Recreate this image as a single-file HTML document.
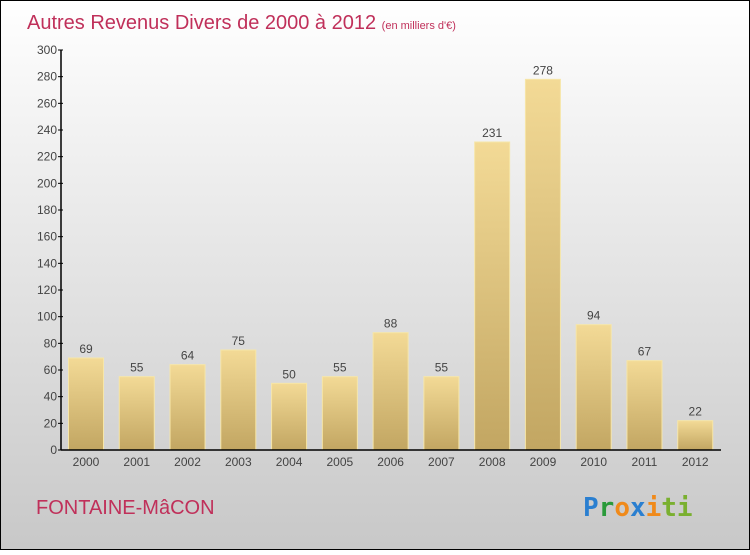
<!DOCTYPE html>
<html><head><meta charset="utf-8"><style>
html,body{margin:0;padding:0;}
body{width:750px;height:550px;overflow:hidden;font-family:"Liberation Sans",sans-serif;}
</style></head><body>
<svg width="750" height="550" xmlns="http://www.w3.org/2000/svg">
<defs>
<linearGradient id="bg" x1="0" y1="0" x2="0" y2="1"><stop offset="0" stop-color="#ffffff"/><stop offset="1" stop-color="#c8c8c8"/></linearGradient>
<linearGradient id="bar" x1="0" y1="0" x2="0" y2="1"><stop offset="0" stop-color="#f3da96"/><stop offset="1" stop-color="#c2a662"/></linearGradient>
</defs>
<rect x="0.5" y="0.5" width="749" height="549" fill="url(#bg)" stroke="#000"/>
<text x="27" y="29" font-size="20" fill="#c0305a">Autres Revenus Divers de 2000 à 2012 <tspan font-size="11">(en milliers d'€)</tspan></text>
<g id="plot"></g>
<text x="36" y="514" font-size="20" fill="#c0305a">FONTAINE-MâCON</text>
<text x="583" y="516" font-size="26" font-weight="bold" font-family="DejaVu Sans Mono, monospace"><tspan fill="#2a7fd0">P</tspan><tspan fill="#2a9a3a">r</tspan><tspan fill="#f08a1a">o</tspan><tspan fill="#2a7fd0">x</tspan><tspan fill="#f08a1a">i</tspan><tspan fill="#7ab030">ti</tspan></text>
</svg>
<script>
const years=["2000","2001","2002","2003","2004","2005","2006","2007","2008","2009","2010","2011","2012"];
const values=[69,55,64,75,50,55,88,55,231,278,94,67,22];
const yTicks=[0,20,40,60,80,100,120,140,160,180,200,220,240,260,280,300];
const NS="http://www.w3.org/2000/svg";
const g=document.getElementById('plot');
const x0=61,x1=721,yb=450,yt=50,yMax=300;
const band=(x1-x0)/years.length;
const y=v=>yb-(v/yMax)*(yb-yt);
function mk(t,a){const e=document.createElementNS(NS,t);for(const k in a)e.setAttribute(k,a[k]);g.appendChild(e);return e;}
yTicks.forEach(v=>{
 const l=mk('line',{x1:x0-3,x2:x0+2,y1:y(v),y2:y(v),stroke:'#000'});
 
 
 const t=mk('text',{x:x0-4,y:y(v)+4,'font-size':12,fill:'#444','text-anchor':'end'});
 t.textContent=v;
 
 
});
years.forEach((yr,i)=>{
 const bx=x0+i*band+7.5,bw=35,v=values[i];
 const r=mk('rect',{x:bx,y:y(v),width:bw,height:yb-y(v),fill:'url(#bar)',stroke:'#f6e6a8','stroke-width':1});
 
 
 const vt=mk('text',{x:bx+bw/2,y:y(v)-5,'font-size':12,fill:'#444','text-anchor':'middle'});
 vt.textContent=v;
 
 
 const xt=mk('text',{x:bx+bw/2,y:466,'font-size':12,fill:'#444','text-anchor':'middle'});
 xt.textContent=yr;
 
 
});
const ya=mk('line',{x1:x0,x2:x0,y1:yt,y2:yb,stroke:'#000','stroke-width':1.5});


const xa=mk('line',{x1:x0,x2:x1,y1:yb,y2:yb,stroke:'#000','stroke-width':1.5});


</script>
</body></html>
